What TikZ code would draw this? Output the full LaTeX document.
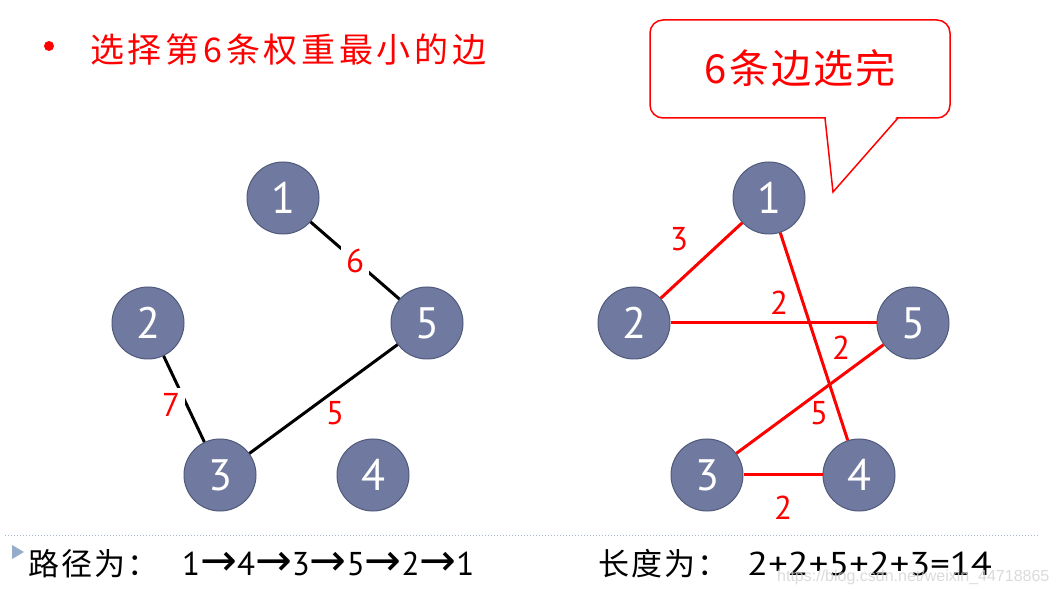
\documentclass[tikz,border=0pt]{standalone}
\usepackage{fontspec}
\setmainfont{PT Sans}
\newfontfamily\cjk{Noto Sans CJK SC}
\newfontfamily\cjkwide{Noto Sans CJK SC}[LetterSpace=11]
\newfontfamily\cjkmid{Noto Sans CJK SC}[LetterSpace=5]
\newfontfamily\cjkbot{Noto Sans CJK SC}[LetterSpace=7]
\newfontfamily\symfont{DejaVu Sans}
\newfontfamily\wmfont{Liberation Sans}
\definecolor{nodefill}{RGB}{112,122,160}
\definecolor{nodeline}{RGB}{80,90,122}
\definecolor{sepline}{RGB}{170,185,210}
\definecolor{markfill}{RGB}{150,172,200}
\newcommand{\arw}{{\symfont\fontsize{44}{44}\selectfont →}}
\tikzset{
  vert/.style={circle, fill=nodefill, draw=nodeline, line width=1pt, minimum size=72pt, inner sep=0pt, text=white, font=\fontsize{44}{44}\selectfont},
  wlab/.style={text=red, font=\fontsize{33}{33}\selectfont, inner sep=1pt},
  gaplab/.style={wlab, fill=white, inner sep=5pt},
  blkedge/.style={line width=3pt, black},
  redge/.style={line width=3pt, red},
  callout/.style={draw=red, line width=1.5pt, fill=white},
}
\begin{document}
\begin{tikzpicture}[x=1pt,y=-1pt]
\useasboundingbox (0,0) rectangle (1058,593);
\fill[white] (0,0) rectangle (1058,593);

% title
\fill[red] (49,46) circle (5);
\node[anchor=base west, text=red, inner sep=0pt, font=\cjkwide\fontsize{34}{34}\selectfont] (title) at (90,63) {选择第6条权重最小的边};

% callout
\draw[callout, rounded corners=13pt] (650,20) rectangle (950,118);
\fill[white] (826,116.5) -- (833,190) -- (897,116.5) -- cycle;
\coordinate (cl) at (825,118);
\coordinate (ctip) at (833,192);
\coordinate (cr) at (898,118);
\draw[red, line width=1.5pt, line join=miter] (cl) -- (ctip) -- (cr);
\node[anchor=base, text=red, inner sep=0pt, font=\cjkmid\fontsize{40}{40}\selectfont] (done) at (800,84) {6条边选完};

% left graph
\node[vert] (a1) at (283,198) {1};
\node[vert] (a2) at (148,323) {2};
\node[vert] (a5) at (427,323) {5};
\node[vert] (a3) at (220,475) {3};
\node[vert] (a4) at (373,475) {4};
\draw[blkedge] (a1) -- (a5);
\draw[blkedge] (a2) -- (a3);
\draw[blkedge] (a5) -- (a3);
\node[gaplab] (l15) at (355,261) {6};
\node[gaplab] (l23) at (171,405) {7};
\node[wlab] (l53) at (335,413) {5};

% right graph
\node[vert] (b1) at (769,198) {1};
\node[vert] (b2) at (634,323) {2};
\node[vert] (b5) at (913,323) {5};
\node[vert] (b3) at (707,475) {3};
\node[vert] (b4) at (859,475) {4};
\draw[redge] (b1) -- (b2);
\draw[redge] (b2) -- (b5);
\draw[redge] (b1) -- (b4);
\draw[redge] (b5) -- (b3);
\draw[redge] (b3) -- (b4);
\node[wlab] (m12) at (679,239) {3};
\node[wlab] (m25) at (779,303) {2};
\node[wlab] (m14) at (841,348) {2};
\node[wlab] (m53) at (819,413) {5};
\node[wlab] (m34) at (783,508) {2};

% bottom
\coordinate (sepL) at (5,535);
\coordinate (sepR) at (1040,535);
\draw[sepline, line width=1pt, dotted] (sepL) -- (sepR);
\fill[markfill] (12,545) -- (24,552) -- (12,559) -- cycle;
\node[anchor=base west, inner sep=0pt, font=\cjkbot\fontsize{31}{31}\selectfont] (pathlbl) at (28,575) {路径为：};
\node[anchor=base west, inner sep=0pt, font=\fontsize{33}{33}\selectfont] (pathseq) at (182,575) {1\arw 4\arw 3\arw 5\arw 2\arw 1};
\node[anchor=base west, inner sep=0pt, font=\cjkbot\fontsize{31}{31}\selectfont] (lenlbl) at (598,575) {长度为：};
\node[anchor=base west, inner sep=0pt, font=\fontsize{33}{33}\selectfont] (lenseq) at (747,575) {\scalebox{1.17}[1]{2+2+5+2+3=14}};
\node[anchor=base west, inner sep=0pt, text=gray!35, opacity=0.8, font=\wmfont\fontsize{16}{16}\selectfont] (wm) at (777,581) {https://blog.csdn.net/weixin\_44718865};
\end{tikzpicture}
\end{document}
